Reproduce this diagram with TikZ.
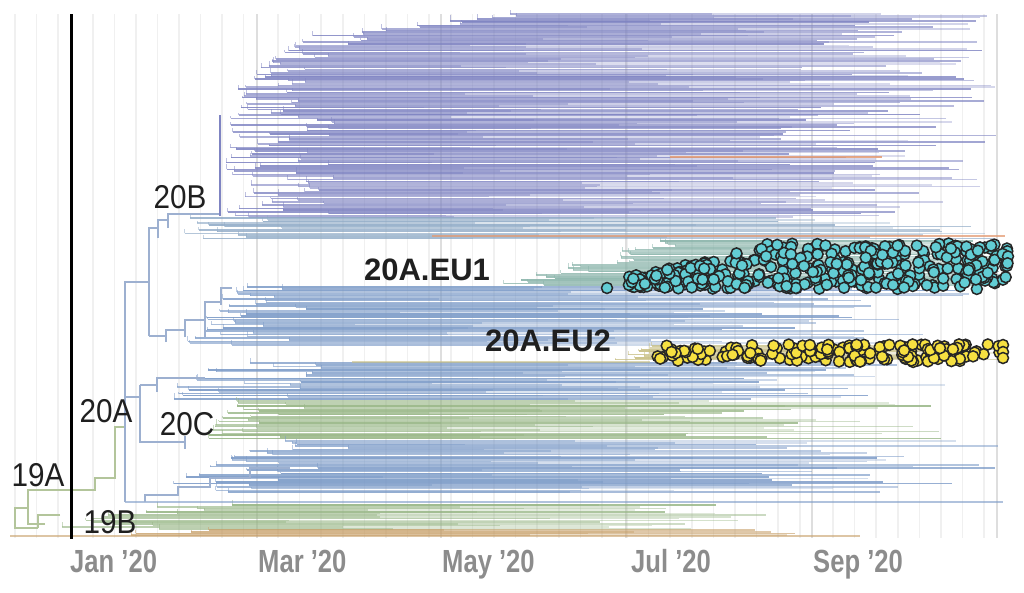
\documentclass[tikz,border=0pt]{standalone}
\usepackage{fontspec}
\setmainfont{Liberation Sans}
\newfontfamily\cladefont[FakeStretch=0.9]{Liberation Sans}
\newfontfamily\axisfont[FakeStretch=0.8]{Liberation Sans}
\definecolor{pu}{HTML}{7F84C2}
\definecolor{bt}{HTML}{8FAAC6}
\definecolor{te}{HTML}{88B3A9}
\definecolor{bl}{HTML}{7B9AC7}
\definecolor{ol}{HTML}{C6BD80}
\definecolor{gr}{HTML}{96B584}
\definecolor{ta}{HTML}{C79F68}
\definecolor{skb}{HTML}{9DB0D0}
\definecolor{skg}{HTML}{B3C59B}
\definecolor{orl}{HTML}{E39A72}
\definecolor{euone}{HTML}{62CDD4}
\definecolor{eutwo}{HTML}{F6E041}
\tikzset{
  gridline/.style={draw=black!6, line width=1.6pt},
  monthline/.style={draw=black!13, line width=2.6pt},
  leafline/.style={draw=#1, line width=1.6pt},
  stemline/.style={draw=#1, line width=0.9pt, draw opacity=0.5},
  skel/.style={draw=#1, line width=1.2pt},
  clade/.style={font=\cladefont\fontsize{33}{33}\selectfont, text=black!88, inner sep=0pt},
  eulabel/.style={font=\fontsize{31}{31}\selectfont\bfseries, text=black!88, inner sep=0pt},
  axislabel/.style={font=\axisfont\fontsize{32}{32}\selectfont\bfseries, text=black!45, inner sep=0pt, anchor=base west},
  eudot/.style={fill=#1, draw=black!85, line width=1.5pt},
}
\begin{document}
\begin{tikzpicture}[x=1pt,y=-1pt]
  \useasboundingbox (0,0) rectangle (1024,592);
  % weeks and months
  \foreach \gx in {15,36.5,58} \draw[gridline] (\gx,14) -- (\gx,538);
  \foreach \gx in {93,114.5,...,244} \draw[gridline] (\gx,14) -- (\gx,538);
  \foreach \gx in {278,299.6,...,610} \draw[gridline] (\gx,14) -- (\gx,538);
  \foreach \gx in {627,648.6,...,800} \draw[gridline] (\gx,14) -- (\gx,538);
  \foreach \gx in {833,854.6,...,990} \draw[gridline] (\gx,14) -- (\gx,538);
  \foreach \gx in {72,257,441,626,812,997} \draw[monthline] (\gx,14) -- (\gx,538);
  % tips of each clade
  \pgfmathsetseed{2020}
  \foreach \ya/\yb/\xa/\xb/\xsp/\xe/\xr/\col in {
      14/22/505/450/30/880/120/pu, 22/37/450/310/50/840/160/pu,
      37/77/310/245/60/800/200/pu, 77/115/245/223/70/780/220/pu,
      115/217/225/225/110/760/240/pu, 218/240/190/165/110/760/240/bt,
      241/286/660/497/50/960/45/te, 287/345/225/185/130/650/330/bl,
      346/361/650/615/25/960/45/ol, 363/400/210/160/130/690/300/bl,
      401/440/235/205/80/650/300/gr, 441/493/270/150/130/650/350/bl,
      505/530/150/40/130/600/170/gr, 530/536/140/115/100/740/120/ta}{
    \pgfmathtruncatemacro\nn{(\yb-\ya)/1.7}
    \foreach \k in {0,...,\nn}{
      \pgfmathsetmacro\y{\ya+\k*1.7}
      \pgfmathsetmacro\xs{\xa+(\xb-\xa)*\k/max(\nn,1)+rnd^1.6*\xsp}
      \pgfmathsetmacro\xt{max(\xe+rnd*\xr,\xs+30)}
      \pgfmathsetmacro\xm{\xs+(\xt-\xs)*(0.3+0.5*rnd)}
      \pgfmathsetmacro\op{0.25+0.6*rnd}
      \pgfmathsetmacro\yu{\y-1.5-rnd*4}
      \draw[leafline=\col, draw opacity=\op] (\xs,\y) -- (\xt,\y);
      \draw[leafline=\col, draw opacity=0.45] (\xs,\y) -- (\xm,\y);
      \draw[stemline=\col] (\xs,\y) -- (\xs,\yu);
    }
  }
  \draw[leafline=ol, draw opacity=0.6] (352,362) -- (650,362);
  \draw[leafline=bl, draw opacity=0.6] (125,502) -- (1003,502);
  \draw[leafline=ta, draw opacity=0.6] (10,536) -- (860,536);
  \draw[orl, line width=1.8pt, opacity=0.85] (670,157) -- (882,157);
  \draw[orl, line width=1.2pt, opacity=0.75] (432,236) -- (1005,236);
  % backbone
  \draw[skel=skg] (38,528) -- (15,528) -- (15,508) -- (28,508);
  \draw[skel=skg] (45,524) -- (28,524) -- (28,490) -- (95,490) -- (95,478) -- (115,478) -- (115,427) -- (125,427);
  \draw[skel=skg] (60,515) -- (38,515) -- (38,528);
  \draw[skel=skb] (125,502) -- (125,282) -- (149,282);
  \draw[skel=skb] (149,336) -- (149,228) -- (158,228);
  \draw[skel=skb] (158,238) -- (158,220) -- (168,220);
  \draw[skel=skb] (168,228) -- (168,214) -- (220,214);
  \draw[skel=pu] (220,216) -- (220,115);
  \draw[skel=skb] (149,336) -- (166,336);
  \draw[skel=skb] (166,342) -- (166,330) -- (185,330);
  \draw[skel=skb] (185,337) -- (185,320) -- (205,320);
  \draw[skel=skb] (205,337) -- (205,302) -- (221,302);
  \draw[skel=skb] (221,305) -- (221,288) -- (232,288);
  \draw[skel=skb] (125,397) -- (140,397);
  \draw[skel=skb] (140,385) -- (140,442) -- (185,442);
  \draw[skel=skb] (140,385) -- (157,385);
  \draw[skel=skb] (157,392) -- (157,378) -- (205,378);
  \draw[skel=skb] (185,436) -- (185,449);
  \draw[skel=skb] (145,502) -- (145,495) -- (178,495) -- (178,487) -- (210,487) -- (210,478) -- (250,478) -- (250,468) -- (290,468);
  \draw[black, line width=3pt] (71,14) -- (71,539);
  % 20A.EU1 samples
  \foreach \i in {1,...,130}{
    \pgfmathsetmacro\dx{628+rnd*132}
    \pgfmathsetmacro\dy{289-rnd*(12+(\dx-628)*0.22)}
    \path[eudot=euone] (\dx,\dy) circle (5.5);
  }
  \foreach \i in {1,...,230}{
    \pgfmathsetmacro\dx{760+rnd*238}
    \pgfmathsetmacro\dy{243+rnd*46}
    \path[eudot=euone] (\dx,\dy) circle (5.5);
  }
  \foreach \i in {1,...,12}{
    \pgfmathsetmacro\dx{1002+rnd*6}
    \pgfmathsetmacro\dy{243+rnd*40}
    \path[eudot=euone] (\dx,\dy) circle (5.5);
  }
  \path[eudot=euone] (607,288) circle (5.5);
  % 20A.EU2 samples
  \foreach \i in {1,...,160}{
    \pgfmathsetmacro\dx{655+rnd*345}
    \pgfmathsetmacro\dy{344+rnd*18}
    \path[eudot=eutwo] (\dx,\dy) circle (5.5);
  }
  \foreach \dy in {345,352,358} \path[eudot=eutwo] (1003,\dy) circle (5.5);
  % labels
  \node[clade] (c20B) at (180,197) {20B};
  \node[clade] (c20A) at (106,411) {20A};
  \node[clade] (c20C) at (187,424) {20C};
  \node[clade] (c19A) at (38,475) {19A};
  \node[clade] (c19B) at (110,522) {19B};
  \node[eulabel] (eu1) at (427,270) {20A.EU1};
  \node[eulabel] (eu2) at (548,341) {20A.EU2};
  \node[axislabel] (jan) at (70,572) {Jan ’20};
  \node[axislabel] (mar) at (258,572) {Mar ’20};
  \node[axislabel] (may) at (442,572) {May ’20};
  \node[axislabel] (jul) at (631,572) {Jul ’20};
  \node[axislabel] (sep) at (813,572) {Sep ’20};
\end{tikzpicture}
\end{document}
